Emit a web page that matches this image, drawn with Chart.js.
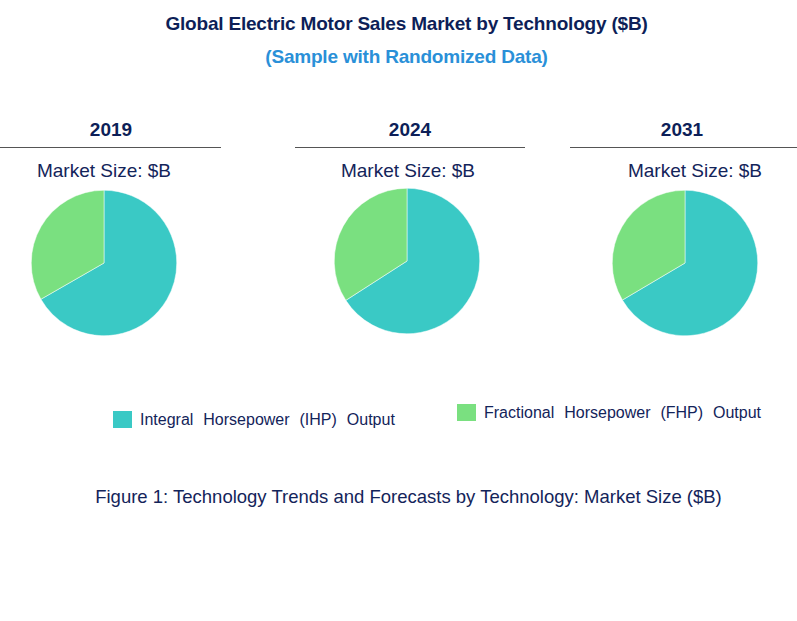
<!DOCTYPE html>
<html>
<head>
<meta charset="utf-8">
<script src="https://cdn.jsdelivr.net/npm/chart.js@4"></script>
<style>
  body { margin: 0; background: #fff; font-family: "Liberation Sans", Arial, sans-serif; color: #13245a; }
  #page { position: relative; width: 797px; height: 621px; overflow: hidden; }
  .txt { position: absolute; text-align: center; white-space: nowrap; }
  .title { top: 13px; left: 0; width: 813px; font-size: 19px; font-weight: bold; line-height: 22px; color: #0d1f58; letter-spacing: -0.2px; }
  .sub { top: 46px; left: 0; width: 813px; font-size: 19px; font-weight: bold; line-height: 22px; color: #2a90d8; letter-spacing: -0.2px; }
  .year { font-size: 19px; font-weight: bold; line-height: 22px; width: 200px; color: #0d1f58; }
  .rule { position: absolute; height: 0; border-top: 1.5px solid #555; }
  .msize { font-size: 19px; line-height: 22px; width: 220px; }
  .pie { position: absolute; width: 146px; height: 146px; }
  .leg { position: absolute; font-size: 16px; line-height: 18px; word-spacing: 5.5px; white-space: nowrap; }
  .leg span { display: inline-block; width: 19px; height: 17px; vertical-align: -3px; margin-right: 8px; }
  .cap { top: 486px; left: 0; width: 817px; font-size: 18.5px; line-height: 22px; }
</style>
</head>
<body>
<div id="page">
  <div class="txt title">Global Electric Motor Sales Market by Technology ($B)</div>
  <div class="txt sub">(Sample with Randomized Data)</div>

  <div class="txt year" style="left:11px; top:119px;">2019</div>
  <div class="rule" style="left:0; width:221px; top:147px;"></div>
  <div class="txt msize" style="left:-6px; top:160px;">Market Size: $B</div>
  <div class="pie" style="left:31px; top:190px;"><canvas id="pie0"></canvas></div>

  <div class="txt year" style="left:310px; top:119px;">2024</div>
  <div class="rule" style="left:295px; width:230px; top:147px;"></div>
  <div class="txt msize" style="left:298px; top:160px;">Market Size: $B</div>
  <div class="pie" style="left:334px; top:188px;"><canvas id="pie1"></canvas></div>

  <div class="txt year" style="left:582px; top:119px;">2031</div>
  <div class="rule" style="left:570px; width:227px; top:147px;"></div>
  <div class="txt msize" style="left:585px; top:160px;">Market Size: $B</div>
  <div class="pie" style="left:612px; top:190px;"><canvas id="pie2"></canvas></div>

  <div class="leg" style="left:113px; top:411px;"><span id="sw0"></span><b style="font-weight:normal" id="lg0"></b></div>
  <div class="leg" style="left:457px; top:404px;"><span id="sw1"></span><b style="font-weight:normal" id="lg1"></b></div>

  <div class="txt cap">Figure 1: Technology Trends and Forecasts by Technology: Market Size ($B)</div>
</div>
<script>
const years = ["2019", "2024", "2031"];
const segments = ["Integral Horsepower (IHP) Output", "Fractional Horsepower (FHP) Output"];
const ihpShare = [66.7, 65.9, 66.5];
const fhpShare = [33.3, 34.1, 33.5];
const colors = ["#3ac9c5", "#7ae080"];

segments.forEach((name, i) => {
    document.getElementById("lg" + i).textContent = name;
    document.getElementById("sw" + i).style.background = colors[i];
});

years.forEach((year, i) => {
    const ctx = document.getElementById("pie" + i).getContext("2d");
    new Chart(ctx, {
        type: "pie",
        data: {
            labels: segments,
            datasets: [
                {
                    label: year,
                    data: [ihpShare[i], fhpShare[i]],
                    backgroundColor: colors,
                    borderColor: "#ffffff",
                    borderWidth: 0.5,
                    hoverOffset: 0,
                },
            ],
        },
        options: {
            responsive: true,
            maintainAspectRatio: false,
            animation: false,
            events: [],
            layout: { padding: 0 },
            plugins: {
                legend: { display: false },
                tooltip: { enabled: false },
            },
        },
    });
});
</script>
</body>
</html>
